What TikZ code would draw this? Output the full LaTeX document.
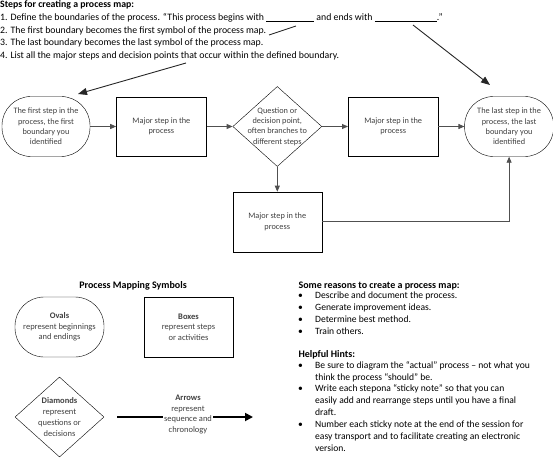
\documentclass[tikz,border=0pt]{standalone}
\usepackage{fontspec}
\setmainfont{Carlito}
\usepackage{tikz}
\usetikzlibrary{arrows.meta,positioning,shapes.geometric}
\tikzset{>/.tip={Triangle[length=6pt,width=5pt]}}
\definecolor{ink}{HTML}{404040}
\definecolor{wire}{HTML}{505050}
\newcommand\bul{\makebox[20pt][l]{\hspace{3pt}•}}
\newcommand\ind{\hspace*{20pt}}

\begin{document}
\begin{tikzpicture}[x=1pt,y=-1pt,node distance=26pt,
    txt/.style={font=\fontsize{8.3}{10.4}\selectfont,text=ink,align=center},
    oval/.style={txt,draw,rounded corners=29pt,minimum width=88pt,minimum height=60pt,inner sep=0pt},
    box/.style={txt,draw,minimum width=90pt,minimum height=59pt,inner sep=0pt},
    decision/.style={draw,diamond,minimum width=89pt,minimum height=80pt,inner sep=0pt},
    key/.style={font=\fontsize{8.5}{10.7}\selectfont,text=ink,align=center},
    head/.style={font=\bfseries\fontsize{10}{12}\selectfont},
    list/.style={font=\fontsize{9.6}{11.9}\selectfont,align=left,inner sep=0pt,anchor=north west},
    flow/.style={draw=wire,line width=0.9pt,->},
    pointer/.style={draw=black!85,line width=0.9pt,-{Triangle[length=9pt,width=7pt]}}]
  \useasboundingbox (0,0) rectangle (553,457);

  % steps
  \node[anchor=north west,inner sep=0pt,align=left,font=\fontsize{9.8}{12.8}\selectfont](steps) at (0,0.5){\textbf{Steps for creating a process map:}\\
    1. Define the boundaries of the process. “This process begins with \rule[-1pt]{48pt}{0.5pt} and ends with \rule[-1pt]{62pt}{0.5pt}.”\\
    2. The first boundary becomes the first symbol of the process map.\\
    3. The last boundary becomes the last symbol of the process map.\\
    4. List all the major steps and decision points that occur within the defined boundary.};

  % process map
  \node[oval](S) at (46,126.5){The first step in the\\process, the first\\boundary you\\identified};
  \node[box,right=of S](M1){Major step in the\\process};
  \node[decision,right=of M1](Q){};
  \node[txt](Qt) at (Q){Question or\\decision point,\\often branches to\\different steps};
  \node[box,right=of Q](M2){Major step in the\\process};
  \node[oval,minimum width=89pt,right=of M2](E){The last step in the\\process, the last\\boundary you\\identified};
  \node[box,minimum width=89pt,minimum height=60pt,below=25pt of Q](M3){Major step in the\\process};

  \draw[flow] (S) -- (M1);
  \draw[flow] (M1) -- (Q);
  \draw[flow] (Q) -- (M2);
  \draw[flow] (M2) -- (E);
  \draw[flow] (Q) -- (M3);
  \draw[flow] (M3.east) -| (E.south);

  \coordinate(p0) at (186,63);
  \coordinate(p1) at (78,94);
  \coordinate(p2) at (413,25);
  \coordinate(p3) at (490,85);
  \coordinate(p4) at (269,35);
  \coordinate(p5) at (296,26);
  \draw[pointer] (p0) -- (p1);
  \draw[pointer] (p2) -- (p3);
  \draw[draw=black!85,line width=0.9pt] (p4) -- (p5);

  % symbols
  \node[head](symbols) at (133,286){Process Mapping Symbols};
  \node[oval,key,minimum width=89pt](ovalkey) at (59.5,327){\textbf{Ovals}\\represent beginnings\\and endings};
  \node[box,key,minimum width=89pt,minimum height=60pt](boxkey) at (188.5,327){\textbf{Boxes}\\represent steps\\or activities};
  \node[decision](diakey) at (59.5,417){};
  \node[key](diatext) at (diakey){\textbf{Diamonds}\\represent\\questions or\\decisions};
  \coordinate(a0) at (117,417);
  \coordinate(a1) at (253,417);
  \draw[line width=1.8pt,-{Triangle[length=8pt,width=8pt]}] (a0) -- (a1);
  \node[key,fill=white,inner sep=1pt](arrowkey) at (188,414.5){\textbf{Arrows}\\represent\\sequence and\\chronology};

  % reasons and hints
  \node[head,anchor=base west](reasons) at (295,288.5){Some reasons to create a process map:};
  \node[list](R) at (295,292){\bul Describe and document the process.\\
    \bul Generate improvement ideas.\\
    \bul Determine best method.\\
    \bul Train others.};
  \node[head,anchor=base west](hints) at (295,357.5){Helpful Hints:};
  \node[list](H) at (295,361){\bul Be sure to diagram the “actual” process – not what you\\
    \ind think the process “should” be.\\
    \bul Write each stepona “sticky note” so that you can\\
    \ind easily add and rearrange steps until you have a final\\
    \ind draft.\\
    \bul Number each sticky note at the end of the session for\\
    \ind easy transport and to facilitate creating an electronic\\
    \ind version.};
\end{tikzpicture}
\end{document}
